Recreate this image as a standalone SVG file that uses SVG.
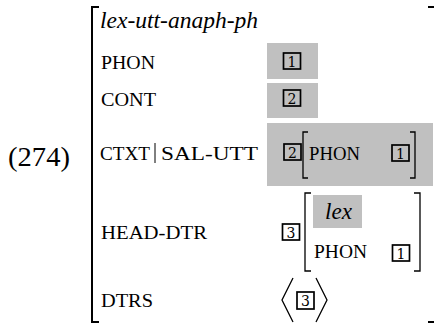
<svg xmlns="http://www.w3.org/2000/svg" width="440" height="326" viewBox="0 0 440 326">
  <style>
    .lbl { font-family: "Liberation Serif", "Times New Roman", serif; font-size: 19px; fill: #000; }
    .it { font-family: "Liberation Serif", "Times New Roman", serif; font-style: italic; font-size: 23px; fill: #000; }
    .num { font-family: "Liberation Serif", "Times New Roman", serif; font-size: 28px; fill: #000; }
    .tagd { font-family: "DejaVu Serif", "Liberation Serif", serif; font-size: 14px; fill: #000; text-anchor: middle; }
    .tagr { fill: none; stroke: #000; stroke-width: 1.7; }
    .shade { fill: #c0c0c0; }
    .brk { fill: none; stroke: #000; stroke-width: 1.3; }
    .big { fill: none; stroke: #000; stroke-width: 2; }
  </style>
  <rect width="440" height="326" fill="#fff"/>

  <!-- example number -->
  <g id="example-number">
    <text class="num" x="8" y="166" textLength="62" lengthAdjust="spacingAndGlyphs">(274)</text>
  </g>

  <!-- outer matrix brackets -->
  <g id="outer-brackets">
    <path class="big" d="M99,7 H92 V322 H99"/>
    <path class="big" d="M428,7 H434 M428,322 H434" stroke-width="1.5"/>
  </g>

  <!-- type -->
  <g id="type">
    <text class="it" x="100" y="28" textLength="158" lengthAdjust="spacingAndGlyphs">lex-utt-anaph-ph</text>
  </g>

  <!-- PHON row -->
  <g id="phon">
    <text class="lbl" x="101" y="69" textLength="54" lengthAdjust="spacingAndGlyphs">PHON</text>
    <rect class="shade" x="267" y="43" width="51" height="36"/>
    <rect class="tagr" x="283.5" y="53" width="17" height="16"/>
    <text class="tagd" x="292" y="66.5">1</text>
  </g>

  <!-- CONT row -->
  <g id="cont">
    <text class="lbl" x="101" y="106" textLength="55" lengthAdjust="spacingAndGlyphs">CONT</text>
    <rect class="shade" x="267" y="83" width="51" height="35"/>
    <rect class="tagr" x="283.5" y="90" width="17" height="16"/>
    <text class="tagd" x="292" y="103.5">2</text>
  </g>

  <!-- CTXT | SAL-UTT row -->
  <g id="ctxt">
    <text class="lbl" x="100" y="160" textLength="50" lengthAdjust="spacingAndGlyphs">CTXT</text>
    <path d="M155,143 V163" stroke="#000" stroke-width="1"/>
    <text class="lbl" x="161" y="160" textLength="97" lengthAdjust="spacingAndGlyphs">SAL-UTT</text>
    <rect class="shade" x="267" y="123" width="166" height="63"/>
    <rect class="tagr" x="284" y="144" width="17" height="16"/>
    <text class="tagd" x="292.5" y="157.5">2</text>
    <path class="brk" d="M308,132 H303 V178 H308"/>
    <path class="brk" d="M410,132 H415 V178 H410"/>
    <text class="lbl" x="309" y="160" textLength="51" lengthAdjust="spacingAndGlyphs">PHON</text>
    <rect class="tagr" x="392" y="145" width="17" height="16"/>
    <text class="tagd" x="400.5" y="158.5">1</text>
  </g>

  <!-- HEAD-DTR row -->
  <g id="head-dtr">
    <text class="lbl" x="101" y="239" textLength="106" lengthAdjust="spacingAndGlyphs">HEAD-DTR</text>
    <rect class="tagr" x="282.5" y="224" width="17" height="16"/>
    <text class="tagd" x="291" y="237.5">3</text>
    <path class="brk" d="M311,193 H305 V271 H311"/>
    <path class="brk" d="M414,193 H420 V271 H414"/>
    <rect class="shade" x="313" y="195" width="49" height="33"/>
    <text class="it" x="325" y="219" textLength="27" lengthAdjust="spacingAndGlyphs">lex</text>
    <text class="lbl" x="314" y="258" textLength="53" lengthAdjust="spacingAndGlyphs">PHON</text>
    <rect class="tagr" x="392.5" y="245" width="17" height="16"/>
    <text class="tagd" x="401" y="258.5">1</text>
  </g>

  <!-- DTRS row -->
  <g id="dtrs">
    <text class="lbl" x="101" y="307" textLength="52" lengthAdjust="spacingAndGlyphs">DTRS</text>
    <path class="brk" d="M293,278 L282,300 L293,322" stroke-width="1.1"/>
    <rect class="tagr" x="297" y="292" width="17" height="17"/>
    <text class="tagd" x="305.5" y="306">3</text>
    <path class="brk" d="M316,278 L327,300 L316,322" stroke-width="1.1"/>
  </g>
</svg>
